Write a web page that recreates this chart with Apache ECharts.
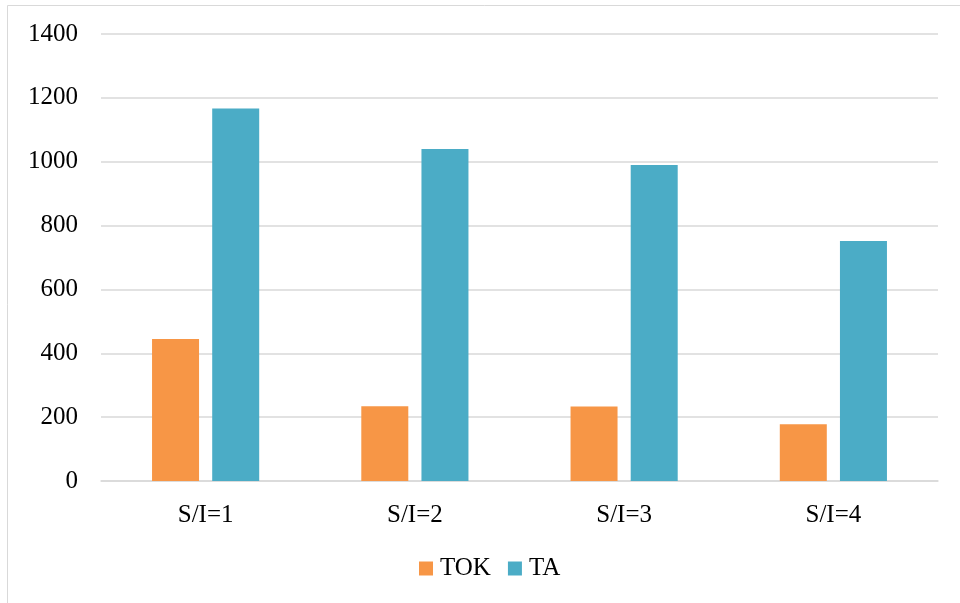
<!DOCTYPE html>
<html>
<head>
<meta charset="utf-8">
<script src="https://cdn.jsdelivr.net/npm/echarts@6/dist/echarts.min.js"></script>
<style>
  html, body { margin: 0; padding: 0; background: #ffffff; }
  #chart { width: 960px; height: 603px; }
</style>
</head>
<body>
<div id="chart"></div>
<script>
// Ratios on the category axis
const categories = ['S/I=1', 'S/I=2', 'S/I=3', 'S/I=4'];
// Series names and values
const seriesNames = ['TOK', 'TA'];
const tokValues = [445, 234, 233, 178];
const taValues = [1167, 1040, 990, 752];
// Value axis range
const yMin = 0;
const yMax = 1400;
const yStep = 200;

const serif = 'Liberation Serif';
const labelText = { fontFamily: serif, fontSize: 25, color: '#000000' };
const chart = echarts.init(document.getElementById('chart'));

chart.setOption({
  backgroundColor: '#ffffff',
  animation: false,
  textStyle: labelText,
  graphic: [{
    type: 'rect',
    shape: { x: 7.5, y: 5.5, width: 970, height: 620 },
    style: { fill: 'none', stroke: '#d9d9d9', lineWidth: 1 },
    silent: true
  }],
  grid: { left: 101, right: 22, top: 34, bottom: 122, containLabel: false },
  legend: {
    data: seriesNames,
    left: 419,
    top: 556,
    padding: 0,
    itemWidth: 14,
    itemHeight: 14,
    itemGap: 17,
    icon: 'rect',
    textStyle: Object.assign({ padding: [0, 0, 0, 2] }, labelText)
  },
  xAxis: {
    type: 'category',
    data: categories,
    axisLine: { show: true, lineStyle: { color: '#d9d9d9', width: 1.5 } },
    axisTick: { show: false },
    axisLabel: Object.assign({ margin: 22 }, labelText)
  },
  yAxis: {
    type: 'value',
    min: yMin,
    max: yMax,
    interval: yStep,
    axisLine: { show: false },
    axisTick: { show: false },
    splitLine: { lineStyle: { color: '#d9d9d9', width: 1.5 } },
    axisLabel: Object.assign({ margin: 23, formatter: (v) => String(v) }, labelText)
  },
  series: [
    {
      name: seriesNames[0],
      type: 'bar',
      data: tokValues,
      barWidth: 47,
      barGap: '28%',
      itemStyle: { color: '#F79646' }
    },
    {
      name: seriesNames[1],
      type: 'bar',
      data: taValues,
      barWidth: 47,
      barGap: '28%',
      itemStyle: { color: '#4BACC6' }
    }
  ]
});
</script>
</body>
</html>
